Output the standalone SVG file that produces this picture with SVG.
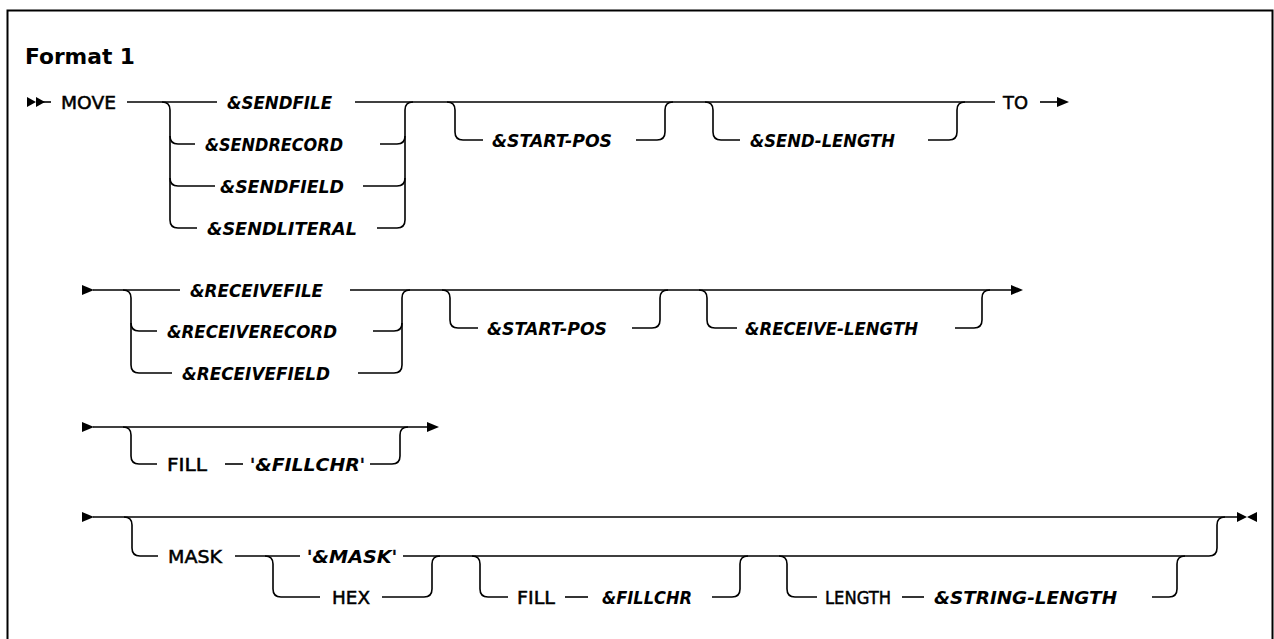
<svg xmlns="http://www.w3.org/2000/svg" width="1274" height="639" viewBox="0 0 1274 639">
<style>
.rail{fill:none;stroke:#000;stroke-width:1.6}
.ah{fill:#000;stroke:none}
.frame{fill:none;stroke:#000;stroke-width:2}
.kw{font-family:"DejaVu Sans","Liberation Sans",sans-serif;font-size:18px;font-weight:normal;fill:#000;stroke:#000;stroke-width:0.5}
.var{font-family:"DejaVu Sans","Liberation Sans",sans-serif;font-size:18px;font-weight:bold;font-style:italic;fill:#000}
.q{font-style:normal;font-weight:normal;stroke:#000;stroke-width:0.5}
.head{font-family:"DejaVu Sans","Liberation Sans",sans-serif;font-size:22px;font-weight:bold;fill:#000}
</style>
<rect x="0" y="0" width="1274" height="639" fill="#fff"/>
<rect class="frame" x="7.5" y="10.5" width="1265" height="700"/>
<text class="head" x="25" y="63.5" textLength="110" lengthAdjust="spacingAndGlyphs">Format 1</text>

<g id="connectors">
  <!-- line 1 -->
  <polygon class="ah" points="27,97 36,102 27,107"/>
  <polygon class="ah" points="36,97 45,102 36,107"/>
  <path class="rail" d="M40 102 L51 102"/>
  <path class="rail" d="M127 102 L217 102"/>
  <path class="rail" d="M162 102 Q170 102 170 110 L170 220 Q170 228 178 228 L197 228"/>
  <path class="rail" d="M170 136 Q170 144 178 144 L195 144"/>
  <path class="rail" d="M170 178 Q170 186 178 186 L215 186"/>
  <path class="rail" d="M380 144 L397 144 Q405 144 405 136"/>
  <path class="rail" d="M363 186 L397 186 Q405 186 405 178"/>
  <path class="rail" d="M377 228 L397 228 Q405 228 405 220 L405 110 Q405 102 413 102"/>
  <path class="rail" d="M355 102 L995 102"/>
  <path class="rail" d="M447 102 Q455 102 455 110 L455 132 Q455 140 463 140 L483 140"/>
  <path class="rail" d="M636 140 L657 140 Q665 140 665 132 L665 110 Q665 102 673 102"/>
  <path class="rail" d="M705 102 Q713 102 713 110 L713 132 Q713 140 721 140 L740 140"/>
  <path class="rail" d="M928 140 L949 140 Q957 140 957 132 L957 110 Q957 102 965 102"/>
  <path class="rail" d="M1040 102 L1058 102"/>
  <polygon class="ah" points="1057,97 1069,102 1057,107"/>

  <!-- line 2 -->
  <polygon class="ah" points="82,285 94,290 82,295"/>
  <path class="rail" d="M93 290 L180 290"/>
  <path class="rail" d="M123 290 Q131 290 131 298 L131 365 Q131 373 139 373 L172 373"/>
  <path class="rail" d="M131 323 Q131 331 139 331 L157 331"/>
  <path class="rail" d="M350 290 L1012 290"/>
  <polygon class="ah" points="1011,285 1023,290 1011,295"/>
  <path class="rail" d="M373 331 L394 331 Q402 331 402 323"/>
  <path class="rail" d="M358 373 L394 373 Q402 373 402 365 L402 298 Q402 290 410 290"/>
  <path class="rail" d="M442 290 Q450 290 450 298 L450 320 Q450 328 458 328 L478 328"/>
  <path class="rail" d="M632 328 L652 328 Q660 328 660 320 L660 298 Q660 290 668 290"/>
  <path class="rail" d="M699 290 Q707 290 707 298 L707 320 Q707 328 715 328 L737 328"/>
  <path class="rail" d="M955 328 L974 328 Q982 328 982 320 L982 298 Q982 290 990 290"/>

  <!-- line 3 -->
  <polygon class="ah" points="82,422 94,427 82,432"/>
  <path class="rail" d="M93 427 L428 427"/>
  <polygon class="ah" points="427,422 439,427 427,432"/>
  <path class="rail" d="M123 427 Q131 427 131 435 L131 456 Q131 464 139 464 L157 464"/>
  <path class="rail" d="M225 464 L243 464"/>
  <path class="rail" d="M370 464 L392 464 Q400 464 400 456 L400 435 Q400 427 408 427"/>

  <!-- line 4 -->
  <polygon class="ah" points="82,512 94,517 82,522"/>
  <path class="rail" d="M93 517 L1238 517"/>
  <polygon class="ah" points="1237,512 1247,517 1237,522"/>
  <polygon class="ah" points="1257,512 1247,517 1257,522"/>
  <path class="rail" d="M124 517 Q132 517 132 525 L132 548 Q132 556 140 556 L158 556"/>
  <path class="rail" d="M235 556 L300 556"/>
  <path class="rail" d="M265 556 Q273 556 273 564 L273 589 Q273 597 281 597 L320 597"/>
  <path class="rail" d="M403 556 L1209 556 Q1217 556 1217 548 L1217 525 Q1217 517 1225 517"/>
  <path class="rail" d="M382 597 L424 597 Q432 597 432 589 L432 564 Q432 556 440 556"/>
  <path class="rail" d="M472 556 Q480 556 480 564 L480 589 Q480 597 488 597 L508 597"/>
  <path class="rail" d="M565 597 L588 597"/>
  <path class="rail" d="M712 597 L732 597 Q740 597 740 589 L740 564 Q740 556 748 556"/>
  <path class="rail" d="M779 556 Q787 556 787 564 L787 589 Q787 597 795 597 L817 597"/>
  <path class="rail" d="M902 597 L924 597"/>
  <path class="rail" d="M1152 597 L1169 597 Q1177 597 1177 589 L1177 564 Q1177 556 1185 556"/>
</g>

<g id="n-move"><text class="kw" x="61" y="108.5" textLength="55" lengthAdjust="spacingAndGlyphs">MOVE</text></g>
<g id="n-sendfile"><text class="var" x="227" y="108.5" textLength="105" lengthAdjust="spacingAndGlyphs">&amp;SENDFILE</text></g>
<g id="n-sendrecord"><text class="var" x="205" y="150.5" textLength="138" lengthAdjust="spacingAndGlyphs">&amp;SENDRECORD</text></g>
<g id="n-sendfield"><text class="var" x="220" y="192.5" textLength="124" lengthAdjust="spacingAndGlyphs">&amp;SENDFIELD</text></g>
<g id="n-sendliteral"><text class="var" x="207" y="234.5" textLength="150" lengthAdjust="spacingAndGlyphs">&amp;SENDLITERAL</text></g>
<g id="n-startpos1"><text class="var" x="492" y="146.5" textLength="120" lengthAdjust="spacingAndGlyphs">&amp;START-POS</text></g>
<g id="n-sendlength"><text class="var" x="750" y="146.5" textLength="145" lengthAdjust="spacingAndGlyphs">&amp;SEND-LENGTH</text></g>
<g id="n-to"><text class="kw" x="1003" y="108.5" textLength="25" lengthAdjust="spacingAndGlyphs">TO</text></g>

<g id="n-receivefile"><text class="var" x="190" y="296.5" textLength="133" lengthAdjust="spacingAndGlyphs">&amp;RECEIVEFILE</text></g>
<g id="n-receiverecord"><text class="var" x="167" y="337.5" textLength="170" lengthAdjust="spacingAndGlyphs">&amp;RECEIVERECORD</text></g>
<g id="n-receivefield"><text class="var" x="182" y="379.5" textLength="148" lengthAdjust="spacingAndGlyphs">&amp;RECEIVEFIELD</text></g>
<g id="n-startpos2"><text class="var" x="487" y="334.5" textLength="120" lengthAdjust="spacingAndGlyphs">&amp;START-POS</text></g>
<g id="n-receivelength"><text class="var" x="745" y="334.5" textLength="173" lengthAdjust="spacingAndGlyphs">&amp;RECEIVE-LENGTH</text></g>

<g id="n-fill1"><text class="kw" x="167" y="470.5" textLength="40" lengthAdjust="spacingAndGlyphs">FILL</text></g>
<g id="n-fillchr1"><text class="var" x="250" y="470.5" textLength="115" lengthAdjust="spacingAndGlyphs"><tspan class="q">'</tspan>&amp;FILLCHR<tspan class="q">'</tspan></text></g>

<g id="n-mask"><text class="kw" x="168" y="562.5" textLength="54" lengthAdjust="spacingAndGlyphs">MASK</text></g>
<g id="n-maskvar"><text class="var" x="307" y="562.5" textLength="90" lengthAdjust="spacingAndGlyphs"><tspan class="q">'</tspan>&amp;MASK<tspan class="q">'</tspan></text></g>
<g id="n-hex"><text class="kw" x="332" y="603.5" textLength="38" lengthAdjust="spacingAndGlyphs">HEX</text></g>
<g id="n-fill2"><text class="kw" x="517" y="603.5" textLength="38" lengthAdjust="spacingAndGlyphs">FILL</text></g>
<g id="n-fillchr2"><text class="var" x="602" y="603.5" textLength="90" lengthAdjust="spacingAndGlyphs">&amp;FILLCHR</text></g>
<g id="n-length"><text class="kw" x="825" y="603.5" textLength="66" lengthAdjust="spacingAndGlyphs">LENGTH</text></g>
<g id="n-stringlength"><text class="var" x="934" y="603.5" textLength="183" lengthAdjust="spacingAndGlyphs">&amp;STRING-LENGTH</text></g>
</svg>
